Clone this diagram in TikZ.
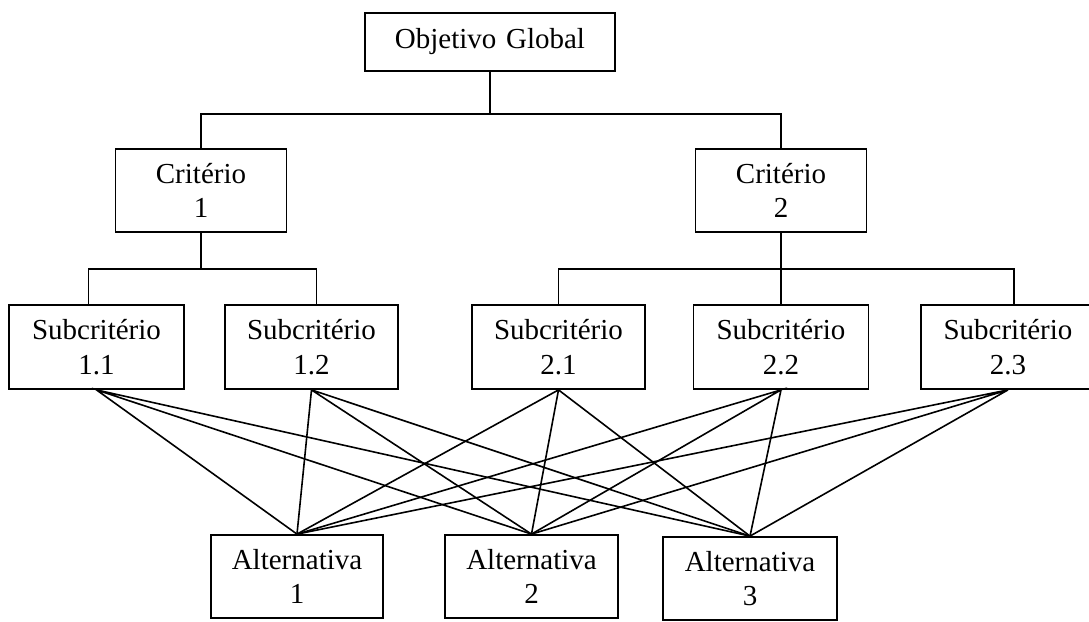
\documentclass[tikz,border=0pt]{standalone}
\usepackage{fontspec}
\setmainfont{Liberation Serif}
\usetikzlibrary{positioning}

\begin{document}
\begin{tikzpicture}[x=1pt,y=-1pt,
        caixa/.style={draw,line width=1.8pt,fill=white,align=center,inner sep=0pt,
          text width=#1,minimum height=84pt,font=\fontsize{29}{34.5}\selectfont},
        caixa/.default=173pt,
        liga/.style={line width=1.6pt}]
        \useasboundingbox (0,0) rectangle (1089,621);
        % niveis da hierarquia
        \node[caixa=250pt,minimum height=58pt] (obj) at (490,42) {Objetivo Global};
        \node[caixa=171pt,minimum height=83pt] (c1) at (201,190.5) {Crit\'erio\\1};
        \node[caixa=171pt,minimum height=83pt] (c2) at (781,190.5) {Crit\'erio\\2};
        \node[caixa=175pt] (s11) at (96.5,347) {Subcrit\'erio\\1.1};
        \node[caixa] (s12) at (311.5,347) {Subcrit\'erio\\1.2};
        \node[caixa] (s21) at (558.5,347) {Subcrit\'erio\\2.1};
        \node[caixa=175pt] (s22) at (781,347) {Subcrit\'erio\\2.2};
        \node[caixa=174pt] (s23) at (1008,347) {Subcrit\'erio\\2.3};
        \node[caixa=172pt,minimum height=83pt] (a1) at (297,576.5) {Alternativa\\1};
        \node[caixa=173pt,minimum height=83pt] (a2) at (531.5,576.5) {Alternativa\\2};
        \node[caixa=174pt,minimum height=83pt] (a3) at (750,578.5) {Alternativa\\3};
        % arvore
        \draw[liga] (obj.south) -- ++(0,42) coordinate (t0);
        \draw[liga] (c1.north) |- (t0) -| (c2.north);
        \draw[liga] (c1.south) -- ++(0,36) coordinate (t1);
        \draw[liga] ([xshift=-8pt]s11.north) |- (t1) -| ([xshift=5pt]s12.north);
        \draw[liga] (c2.south) -- (s22.north);
        \draw[liga] (c2.south) ++(0,36) coordinate (t2);
        \draw[liga] (s21.north) |- (t2) -| ([xshift=6pt]s23.north);
        % subcriterios x alternativas
        \draw[liga] (a1.north) -- (s11.south) -- (a2.north) (s11.south) -- (a3.north);
        \draw[liga] (a1.north) -- (s12.south) -- (a2.north) (s12.south) -- (a3.north);
        \draw[liga] (a1.north) -- (s21.south) -- (a2.north) (s21.south) -- (a3.north);
        \draw[liga] (a1.north) -- (s22.south) -- (a2.north) (s22.south) -- (a3.north);
        \draw[liga] (a1.north) -- (s23.south) -- (a2.north) (s23.south) -- (a3.north);
      \end{tikzpicture}
\end{document}
